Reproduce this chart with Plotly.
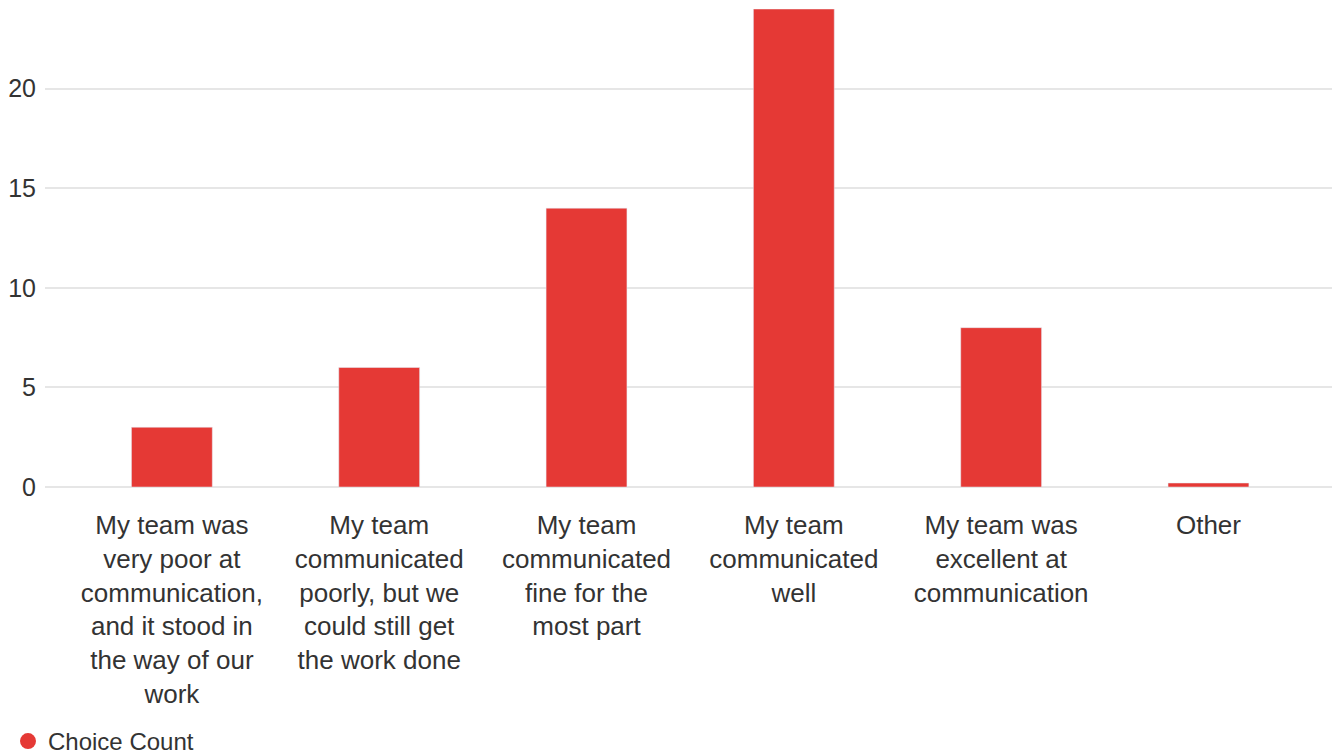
import plotly.graph_objects as go

categories = [
    "My team was<br>very poor at<br>communication,<br>and it stood in<br>the way of our<br>work",
    "My team<br>communicated<br>poorly, but we<br>could still get<br>the work done",
    "My team<br>communicated<br>fine for the<br>most part",
    "My team<br>communicated<br>well",
    "My team was<br>excellent at<br>communication",
    "Other",
]
counts = [3, 6, 14, 24, 8, 0.2]
series_name = "Choice Count"
red = "#e53935"
text_col = "#333333"

xs = list(range(len(categories)))

fig = go.Figure()
fig.add_trace(go.Bar(x=xs, y=counts, width=0.39, marker_color=red,
                     showlegend=False, name=series_name))
# legend entry with a round marker
fig.add_trace(go.Scatter(x=[None], y=[None], mode="markers", name=series_name,
                         marker=dict(symbol="circle", size=20, color=red)))

fig.update_xaxes(tickmode="array", tickvals=xs, ticktext=categories,
                 range=[-0.612, 5.62], showgrid=False, zeroline=False,
                 showline=False, ticks="", automargin=False,
                 ticklabelstandoff=20,
                 tickfont=dict(size=26, color=text_col))
fig.update_yaxes(range=[0, 24], dtick=5, gridcolor="#e6e6e6", gridwidth=2,
                 zeroline=True, zerolinecolor="#e6e6e6", zerolinewidth=2,
                 ticks="", automargin=False,
                 tickfont=dict(size=25, color=text_col),
                 ticklabelstandoff=8)

# page body adds an 8px offset, so margins are shifted to compensate
fig.update_layout(
    width=1340, height=756,
    margin=dict(l=37, r=11, t=1, b=277),
    paper_bgcolor="white", plot_bgcolor="white",
    font=dict(family="Liberation Sans, Arial, sans-serif", color=text_col),
    legend=dict(orientation="h", xref="container", yref="container",
                x=0.0, y=0.0, xanchor="left", yanchor="bottom",
                font=dict(size=24, color=text_col)),
)

fig.write_html("out.html")
